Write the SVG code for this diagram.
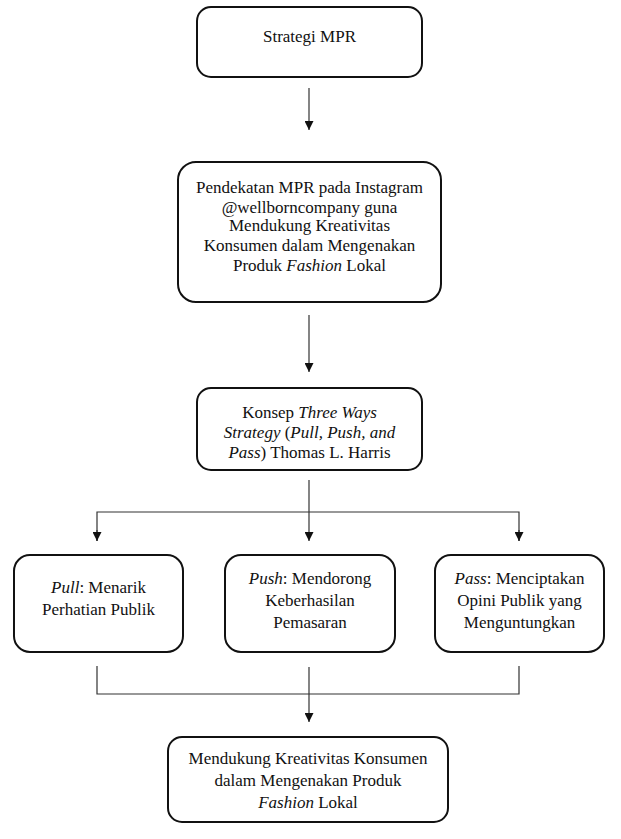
<svg xmlns="http://www.w3.org/2000/svg" width="621" height="839" viewBox="0 0 621 839">
<defs>
<style>
.box{fill:#fff;stroke:#111;stroke-width:2}
svg g text.t{font-family:'Liberation Serif','Times New Roman',serif;font-size:17px;fill:#111;text-anchor:middle}
.ln{stroke:#333;stroke-width:1.2;fill:none}
</style>
<marker id="ah" viewBox="0 0 10 10" refX="10" refY="5" markerWidth="9" markerHeight="9" markerUnits="userSpaceOnUse" orient="auto">
<path d="M0,0 L10,5 L0,10 Z" fill="#111"/>
</marker>
</defs>
<rect width="621" height="839" fill="#fff"/>
<g id="connectors">
<line class="ln" x1="309" y1="88" x2="309" y2="130" marker-end="url(#ah)"/>
<line class="ln" x1="309" y1="315" x2="309" y2="372" marker-end="url(#ah)"/>
<line class="ln" x1="309" y1="480" x2="309" y2="541" marker-end="url(#ah)"/>
<polyline class="ln" points="97,541 97,512 519,512 519,541"/>
<line class="ln" x1="97" y1="530" x2="97" y2="541" marker-end="url(#ah)"/>
<line class="ln" x1="519" y1="530" x2="519" y2="541" marker-end="url(#ah)"/>
<polyline class="ln" points="97,666 97,694 519,694 519,666"/>
<line class="ln" x1="309" y1="667" x2="309" y2="722" marker-end="url(#ah)"/>
</g>
<g id="n1">
<rect class="box" x="197" y="7" width="225" height="70" rx="14"/>
<text class="t" style="font-family:'Liberation Serif',serif" x="309.5" y="42">Strategi MPR</text>
</g>
<g id="n2">
<rect class="box" x="178" y="162" width="263" height="140" rx="18"/>
<text class="t" style="font-family:'Liberation Serif',serif" x="309.5" y="193">Pendekatan MPR pada Instagram</text>
<text class="t" style="font-family:'Liberation Serif',serif" x="309.5" y="213">@wellborncompany guna</text>
<text class="t" style="font-family:'Liberation Serif',serif" x="309.5" y="231">Mendukung Kreativitas</text>
<text class="t" style="font-family:'Liberation Serif',serif" x="309.5" y="251">Konsumen dalam Mengenakan</text>
<text class="t" style="font-family:'Liberation Serif',serif" x="309.5" y="271">Produk <tspan font-style="italic">Fashion</tspan> Lokal</text>
</g>
<g id="n3">
<rect class="box" x="197" y="388" width="225" height="82" rx="14"/>
<text class="t" style="font-family:'Liberation Serif',serif" x="309.5" y="418">Konsep <tspan font-style="italic">Three Ways</tspan></text>
<text class="t" style="font-family:'Liberation Serif',serif" x="309.5" y="438"><tspan font-style="italic">Strategy</tspan> (<tspan font-style="italic">Pull, Push, and</tspan></text>
<text class="t" style="font-family:'Liberation Serif',serif" x="309.5" y="458"><tspan font-style="italic">Pass</tspan>) Thomas L. Harris</text>
</g>
<g id="n4">
<rect class="box" x="14" y="555" width="169" height="97" rx="16"/>
<text class="t" style="font-family:'Liberation Serif',serif" x="98.5" y="593"><tspan font-style="italic">Pull</tspan>: Menarik</text>
<text class="t" style="font-family:'Liberation Serif',serif" x="98.5" y="615">Perhatian Publik</text>
</g>
<g id="n5">
<rect class="box" x="225" y="555" width="170" height="97" rx="16"/>
<text class="t" style="font-family:'Liberation Serif',serif" x="310" y="584"><tspan font-style="italic">Push</tspan>: Mendorong</text>
<text class="t" style="font-family:'Liberation Serif',serif" x="310" y="606">Keberhasilan</text>
<text class="t" style="font-family:'Liberation Serif',serif" x="310" y="628">Pemasaran</text>
</g>
<g id="n6">
<rect class="box" x="435" y="555" width="169" height="97" rx="16"/>
<text class="t" style="font-family:'Liberation Serif',serif" x="519.5" y="584"><tspan font-style="italic">Pass</tspan>: Menciptakan</text>
<text class="t" style="font-family:'Liberation Serif',serif" x="519.5" y="606">Opini Publik yang</text>
<text class="t" style="font-family:'Liberation Serif',serif" x="519.5" y="628">Menguntungkan</text>
</g>
<g id="n7">
<rect class="box" x="168" y="737" width="280" height="85" rx="14"/>
<text class="t" style="font-family:'Liberation Serif',serif" x="308" y="764">Mendukung Kreativitas Konsumen</text>
<text class="t" style="font-family:'Liberation Serif',serif" x="308" y="786">dalam Mengenakan Produk</text>
<text class="t" style="font-family:'Liberation Serif',serif" x="308" y="808"><tspan font-style="italic">Fashion</tspan> Lokal</text>
</g>
</svg>
